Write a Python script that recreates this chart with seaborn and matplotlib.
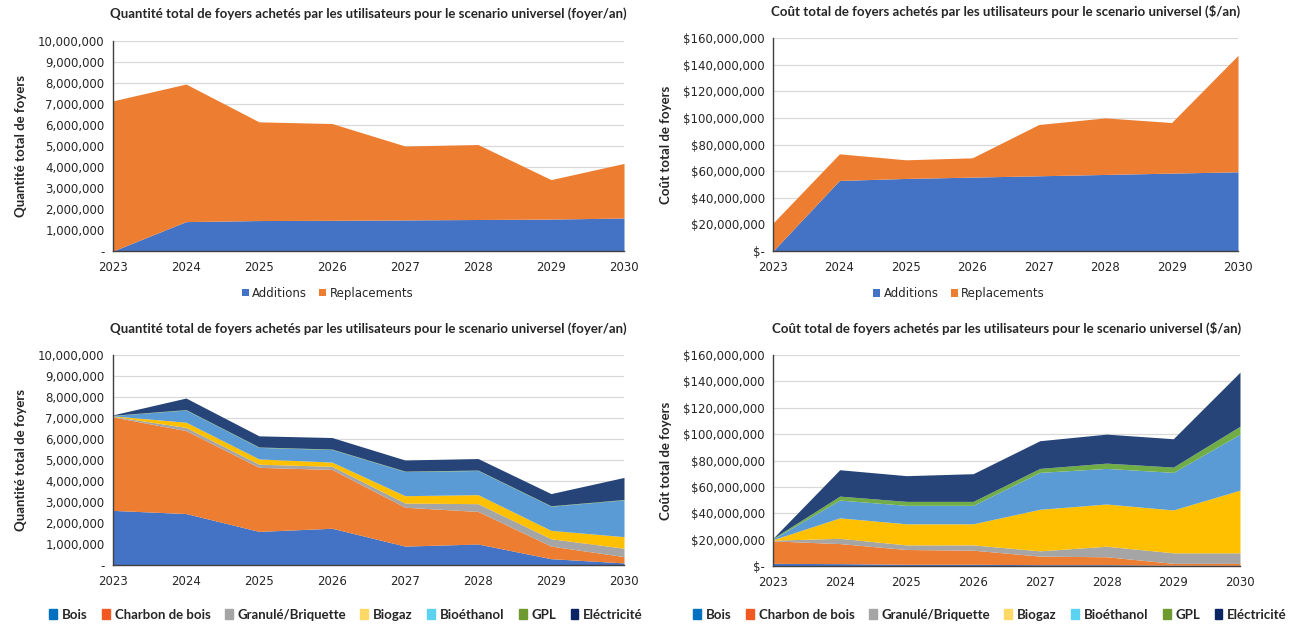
import numpy as np
import pandas as pd
import matplotlib
matplotlib.use("Agg")
import matplotlib.pyplot as plt
import matplotlib.ticker as mticker
from matplotlib.patches import Patch
import seaborn as sns

years = [2023, 2024, 2025, 2026, 2027, 2028, 2029, 2030]

# top charts: additions / replacements
qty_additions = [0, 1.40e6, 1.45e6, 1.46e6, 1.48e6, 1.50e6, 1.52e6, 1.57e6]
qty_total = [7.15e6, 7.95e6, 6.15e6, 6.07e6, 5.00e6, 5.07e6, 3.40e6, 4.17e6]
cost_additions = [0, 53.0e6, 54.5e6, 55.5e6, 56.5e6, 57.5e6, 58.5e6, 59.5e6]
cost_total = [21.0e6, 73.0e6, 68.5e6, 70.0e6, 95.0e6, 100.0e6, 96.5e6, 147.0e6]

# bottom charts: cumulative tops per fuel
fuels = ["Bois", "Charbon de bois", "Granulé/Briquette", "Biogaz", "Bioéthanol", "GPL", "Eléctricité"]
qty_tops = {
    "Bois": [2.60, 2.45, 1.60, 1.75, 0.90, 1.00, 0.30, 0.10],
    "Charbon de bois": [7.05, 6.40, 4.65, 4.55, 2.75, 2.55, 0.90, 0.40],
    "Granulé/Briquette": [7.08, 6.55, 4.80, 4.70, 2.95, 2.92, 1.25, 0.80],
    "Biogaz": [7.10, 6.80, 5.05, 4.90, 3.30, 3.35, 1.65, 1.35],
    "Bioéthanol": [7.12, 7.38, 5.60, 5.50, 4.45, 4.50, 2.80, 3.10],
    "GPL": [7.13, 7.40, 5.62, 5.52, 4.47, 4.52, 2.82, 3.12],
    "Eléctricité": [7.15, 7.95, 6.15, 6.07, 5.00, 5.07, 3.40, 4.17],
}
cost_tops = {
    "Bois": [2.0, 1.8, 1.3, 1.3, 1.0, 1.0, 0.6, 0.5],
    "Charbon de bois": [19.0, 17.0, 12.5, 12.0, 7.5, 7.0, 2.0, 2.0],
    "Granulé/Briquette": [19.5, 21.0, 16.0, 16.0, 11.5, 15.0, 10.0, 10.0],
    "Biogaz": [20.0, 36.5, 32.0, 32.0, 43.0, 47.0, 42.5, 57.5],
    "Bioéthanol": [20.5, 50.0, 46.0, 46.0, 71.0, 74.0, 71.0, 100.0],
    "GPL": [21.0, 53.0, 49.0, 49.0, 74.0, 78.0, 75.0, 106.0],
    "Eléctricité": [21.0, 73.0, 68.5, 70.0, 95.0, 100.0, 96.5, 147.0],
}

area_colors = ["#4472C4", "#ED7D31", "#A5A5A5", "#FFC000", "#5B9BD5", "#70AD47", "#264478"]
legend_colors = ["#0070C0", "#F05A22", "#A5A5A5", "#FFD966", "#5BD3F0", "#6E9A2F", "#0A2464"]

title_q = "Quantité total de foyers achetés par les utilisateurs pour le scenario universel (foyer/an)"
title_c = "Coût total de foyers achetés par les utilisateurs pour le scenario universel ($/an)"

sns.set_style("white")
plt.rcParams['font.family'] = ['Liberation Sans Narrow', 'DejaVu Sans']
TFONT = ['Lato', 'DejaVu Sans']

W, H = 1298, 628
fig = plt.figure(figsize=(W / 100, H / 100), dpi=100)


def make_ax(left, right, top, bottom):
    return fig.add_axes([left / W, 1 - bottom / H, (right - left) / W, (bottom - top) / H])


def layers(tops, scale):
    out, prev = [], np.zeros(len(years))
    for f in fuels:
        cur = np.array(tops[f]) * scale
        out.append(cur - prev)
        prev = cur
    return out


def style(ax, ymax, step, money):
    ax.set_xlim(years[0], years[-1])
    ax.set_ylim(0, ymax)
    ax.set_xticks(years)
    ax.yaxis.set_major_locator(mticker.MultipleLocator(step))
    if money:
        fmt = lambda v, p: "$-" if v == 0 else "${:,.0f}".format(v)
    else:
        fmt = lambda v, p: "-" if v == 0 else "{:,.0f}".format(v)
    ax.yaxis.set_major_formatter(mticker.FuncFormatter(fmt))
    ax.grid(axis="y", color="#D9D9D9", lw=0.9)
    ax.set_axisbelow(True)
    sns.despine(ax=ax, top=True, right=True)
    for s in ["left", "bottom"]:
        ax.spines[s].set_color("#404040")
        ax.spines[s].set_linewidth(1.0)
    ax.tick_params(axis="x", length=4, color="#404040", labelsize=8.5, colors="#262626", pad=3)
    ax.tick_params(axis="y", length=0, labelsize=8.5, colors="#262626", pad=6)


# top-left
ax1 = make_ax(113, 624, 41, 251)
rep = np.array(qty_total) - np.array(qty_additions)
ax1.stackplot(years, qty_additions, rep, colors=["#4472C4", "#ED7D31"],
              labels=["Additions", "Replacements"], lw=0)
style(ax1, 10e6, 1e6, False)
ax1.set_title(title_q, fontsize=9.5, fontweight="bold", family=TFONT, color="#262626", pad=17)
ax1.set_ylabel("Quantité total de foyers", fontsize=9.5, fontweight="bold", family=TFONT, labelpad=8)
ax1.legend(loc="upper center", bbox_to_anchor=(0.42, -0.12), ncol=2, frameon=False, fontsize=8.5,
           handlelength=0.6, handleheight=0.6, handletextpad=0.3, columnspacing=1.0)

# top-right
ax2 = make_ax(773, 1238, 38, 251)
rep = np.array(cost_total) - np.array(cost_additions)
ax2.stackplot(years, cost_additions, rep, colors=["#4472C4", "#ED7D31"],
              labels=["Additions", "Replacements"], lw=0)
style(ax2, 160e6, 20e6, True)
ax2.set_title(title_c, fontsize=9.5, fontweight="bold", family=TFONT, color="#262626", pad=16)
ax2.set_ylabel("Coût total de foyers", fontsize=9.5, fontweight="bold", family=TFONT, labelpad=8)
ax2.legend(loc="upper center", bbox_to_anchor=(0.4, -0.12), ncol=2, frameon=False, fontsize=8.5,
           handlelength=0.6, handleheight=0.6, handletextpad=0.3, columnspacing=1.0)

# bottom-left
ax3 = make_ax(113, 624, 355, 565)
ax3.stackplot(years, *layers(qty_tops, 1e6), colors=area_colors, lw=0)
style(ax3, 10e6, 1e6, False)
ax3.set_title(title_q, fontsize=9.5, fontweight="bold", family=TFONT, color="#262626", pad=16)
ax3.set_ylabel("Quantité total de foyers", fontsize=9.5, fontweight="bold", family=TFONT, labelpad=8)

# bottom-right
ax4 = make_ax(773, 1240, 355, 566)
ax4.stackplot(years, *layers(cost_tops, 1e6), colors=area_colors, lw=0)
style(ax4, 160e6, 20e6, True)
ax4.set_title(title_c, fontsize=9.5, fontweight="bold", family=TFONT, color="#262626", pad=16)
ax4.set_ylabel("Coût total de foyers", fontsize=9.5, fontweight="bold", family=TFONT, labelpad=8)

handles = [Patch(color=c, label=f) for f, c in zip(fuels, legend_colors)]
for x0 in (346 / W, 990 / W):
    fig.legend(handles=handles, loc="center", bbox_to_anchor=(x0, 1 - 615 / H), ncol=7, frameon=False,
               prop={"family": TFONT, "weight": "bold", "size": 9.5},
               handlelength=0.6, handleheight=0.8, handletextpad=0.35, columnspacing=1.1)

fig.savefig("out.png", dpi=100)
